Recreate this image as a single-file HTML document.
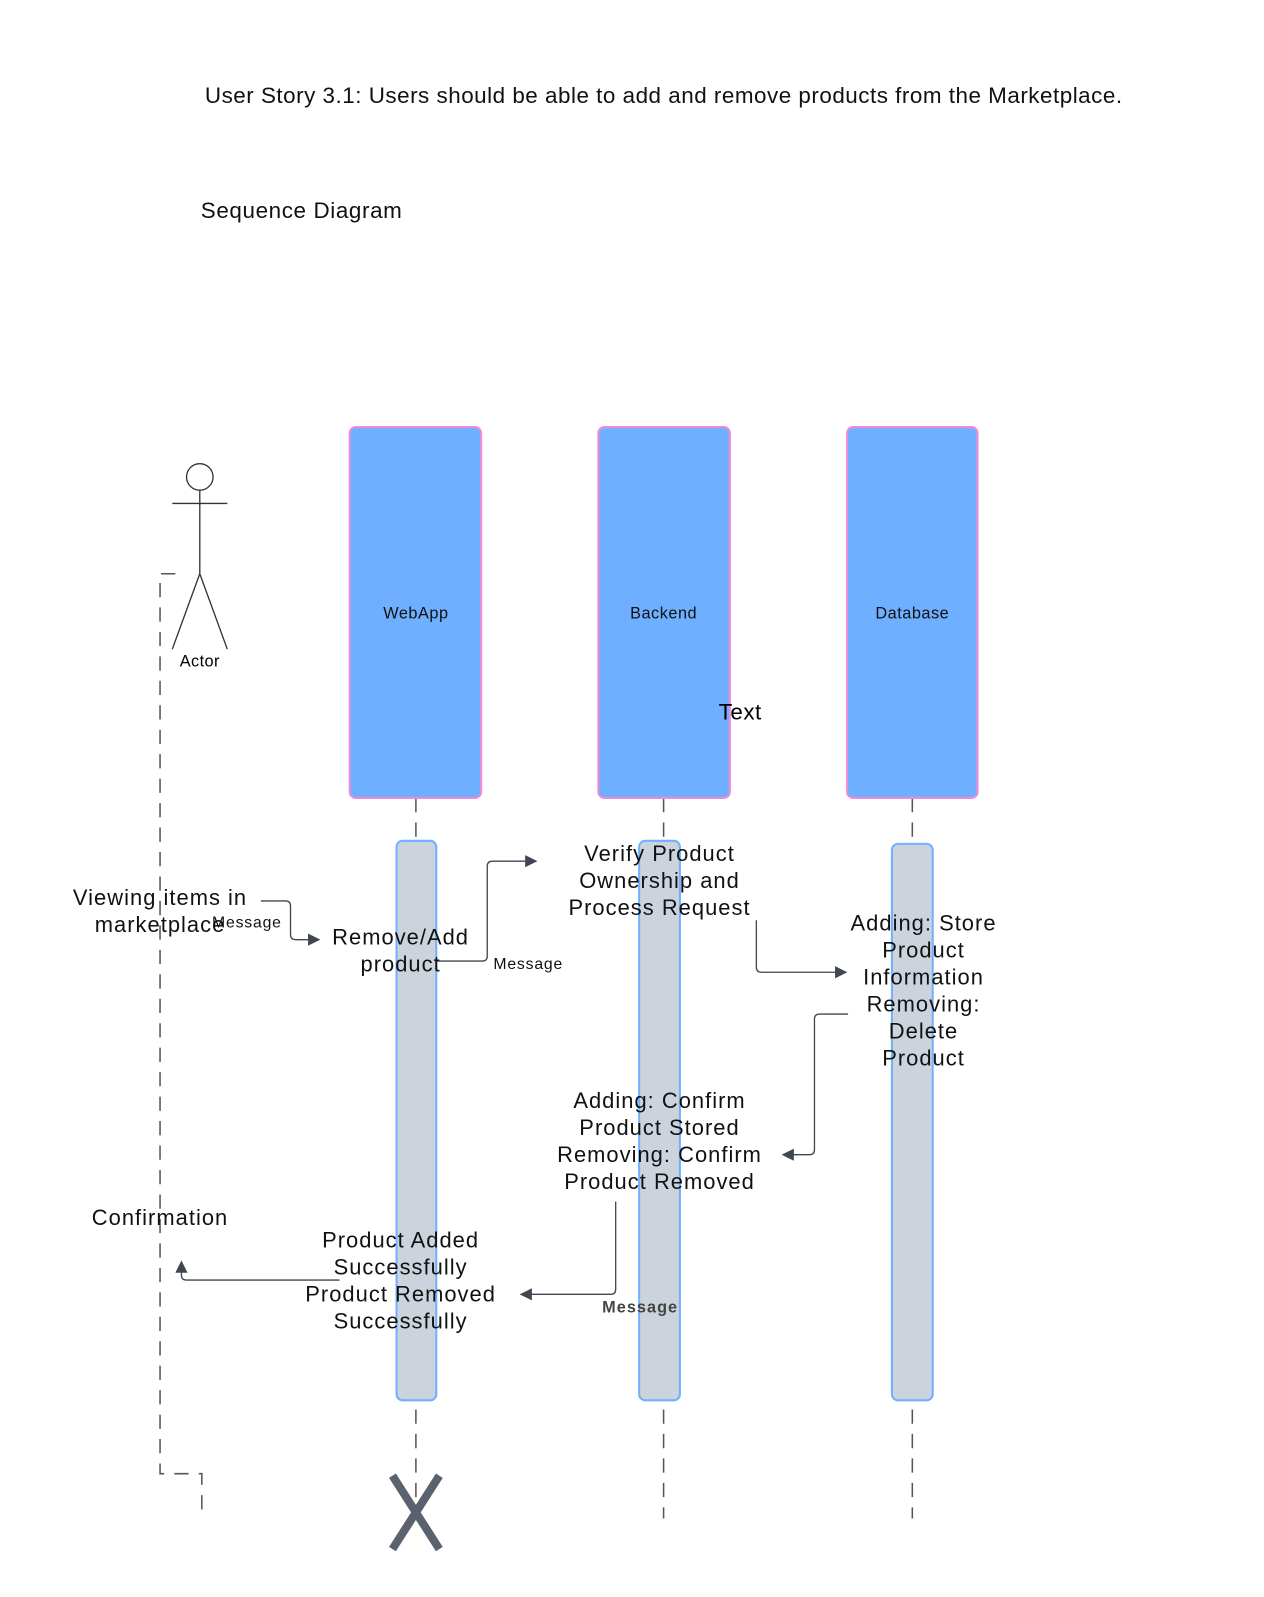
<!DOCTYPE html>
<html><head><meta charset="utf-8"><style>
html,body{margin:0;padding:0;background:#fff;overflow:hidden}
svg{display:block;font-family:"Liberation Sans",sans-serif}
</style></head><body>
<svg width="1264" height="1597" viewBox="0 0 1240 1567" preserveAspectRatio="none">
<defs><marker id="ah" viewBox="0 0 10 10" refX="9" refY="5" markerWidth="16" markerHeight="12" markerUnits="userSpaceOnUse" orient="auto"><path d="M0,0 L10,5 L0,10 z" fill="#404652"/></marker></defs>
<text x="201" y="101" font-size="22" letter-spacing="0.5" fill="#111">User Story 3.1: Users should be able to add and remove products from the Marketplace.</text>
<text x="197" y="214" font-size="22" letter-spacing="0.6" fill="#111">Sequence Diagram</text>

<g stroke="#555" stroke-width="1.5" stroke-dasharray="14,10" fill="none">
<line x1="408" y1="783" x2="408" y2="1490"/>
<line x1="651" y1="783" x2="651" y2="1490"/>
<line x1="895" y1="783" x2="895" y2="1490"/>
<path d="M172,563 H157 V1446 H198 V1490"/>
</g>

<g stroke="#333" stroke-width="1.3" fill="none">
<circle cx="196" cy="468" r="13"/>
<line x1="169" y1="494" x2="223" y2="494"/>
<line x1="196" y1="481" x2="196" y2="563"/>
<line x1="196" y1="563" x2="169" y2="637"/>
<line x1="196" y1="563" x2="223" y2="637"/>
</g>
<text x="196" y="654" font-size="16" letter-spacing="0.4" text-anchor="middle">Actor</text>

<g fill="#6eb0ff" stroke="#f08ad8" stroke-width="2">
<rect x="343" y="419" width="129" height="364" rx="6"/>
<rect x="587" y="419" width="129" height="364" rx="6"/>
<rect x="831" y="419" width="128" height="364" rx="6"/>
</g>
<g font-size="16" letter-spacing="0.5" text-anchor="middle" fill="#111">
<text x="408" y="607">WebApp</text>
<text x="651" y="607">Backend</text>
<text x="895" y="607">Database</text>
</g>
<text x="705" y="706" font-size="22" letter-spacing="0.5">Text</text>

<g fill="#cdd3dc" stroke="#6fb0ff" stroke-width="2">
<rect x="389" y="825" width="39" height="549" rx="6"/>
<rect x="627" y="825" width="40" height="549" rx="6"/>
<rect x="875" y="828" width="40" height="546" rx="6"/>
</g>

<g stroke="#404652" stroke-width="1.3" fill="none" marker-end="url(#ah)">
<path d="M256,884 H280 Q285,884 285,889 V917 Q285,922 290,922 H313"/>
<path d="M428,943 H473 Q478,943 478,938 V850 Q478,845 483,845 H526"/>
<path d="M742,903 V949 Q742,954 747,954 H830"/>
<path d="M832,995 H804 Q799,995 799,1000 V1128 Q799,1133 794,1133 H768"/>
<path d="M604,1179 V1265 Q604,1270 599,1270 H511"/>
<path d="M333,1256 H183 Q178,1256 178,1251 V1238"/>
</g>

<g font-size="21.5" letter-spacing="1" text-anchor="middle" fill="#111">
<text x="157" y="888"><tspan x="157">Viewing items in</tspan><tspan x="157" dy="26.5">marketplace</tspan></text>
<text x="393" y="927"><tspan x="393">Remove/Add</tspan><tspan x="393" dy="26.5">product</tspan></text>
<text x="647" y="845"><tspan x="647">Verify Product</tspan><tspan x="647" dy="26.5">Ownership and</tspan><tspan x="647" dy="26.5">Process Request</tspan></text>
<text x="906" y="913"><tspan x="906">Adding: Store</tspan><tspan x="906" dy="26.5">Product</tspan><tspan x="906" dy="26.5">Information</tspan><tspan x="906" dy="26.5">Removing:</tspan><tspan x="906" dy="26.5">Delete</tspan><tspan x="906" dy="26.5">Product</tspan></text>
<text x="647" y="1087"><tspan x="647">Adding: Confirm</tspan><tspan x="647" dy="26.5">Product Stored</tspan><tspan x="647" dy="26.5">Removing: Confirm</tspan><tspan x="647" dy="26.5">Product Removed</tspan></text>
<text x="157" y="1202">Confirmation</text>
<text x="393" y="1224"><tspan x="393">Product Added</tspan><tspan x="393" dy="26.5">Successfully</tspan><tspan x="393" dy="26.5">Product Removed</tspan><tspan x="393" dy="26.5">Successfully</tspan></text>
</g>
<g font-size="15.5" letter-spacing="0.8" fill="#111">
<text x="208" y="910">Message</text>
<text x="484" y="951">Message</text>
<text x="628" y="1288" text-anchor="middle" font-size="16" font-weight="bold" letter-spacing="1" fill="#444">Message</text>
</g>

<g stroke="#5a6270" stroke-width="8" stroke-linecap="butt">
<line x1="385" y1="1448" x2="431" y2="1520"/>
<line x1="431" y1="1448" x2="385" y2="1520"/>
</g>
</svg>
</body></html>
